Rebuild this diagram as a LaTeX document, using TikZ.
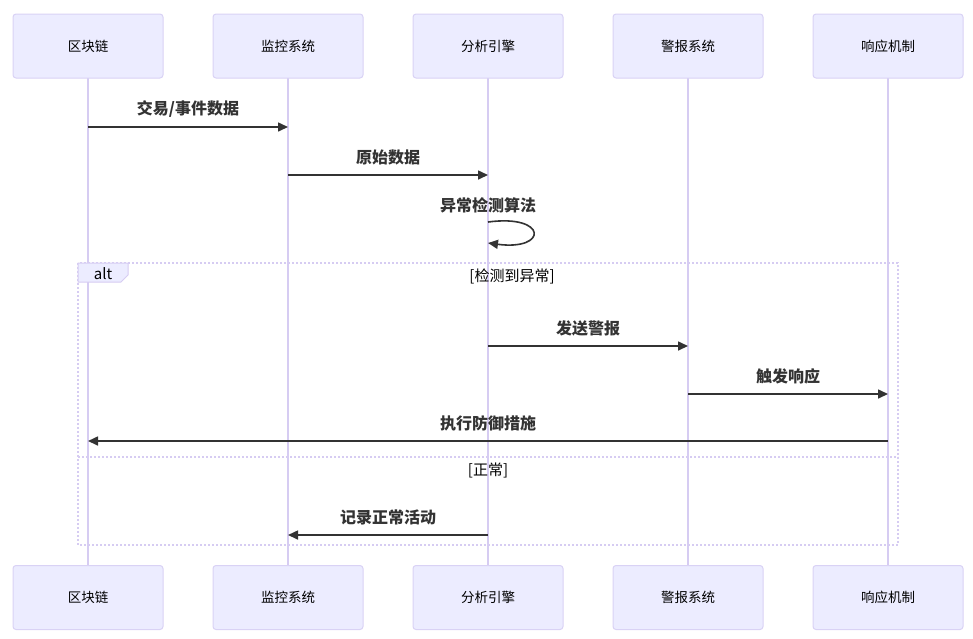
\documentclass[tikz,border=0pt]{standalone}
\usepackage{fontspec}
\setmainfont{Noto Sans CJK SC}
\usetikzlibrary{arrows.meta}
\definecolor{actfill}{HTML}{ECECFF}
\definecolor{actline}{HTML}{D9D2F5}
\definecolor{lifeline}{HTML}{D6CCF2}
\definecolor{msg}{HTML}{333333}
\tikzset{
  actor/.style={draw=actline, fill=actfill, line width=1pt, rounded corners=3pt,
    minimum width=150pt, minimum height=64pt, inner sep=0pt,
    font=\fontsize{13.5}{15}\selectfont, text=black},
  life/.style={draw=lifeline, line width=1.3pt},
  msgline/.style={draw=msg, line width=1.6pt, -{Triangle[length=10pt,width=9pt]}},
  msglabel/.style={font=\bfseries\fontsize{16}{18}\selectfont, text=msg, inner sep=0pt},
  loopline/.style={draw=lifeline, line width=1.5pt, dash pattern=on 2pt off 2pt},
  cond/.style={font=\fontsize{15}{17}\selectfont, text=black, inner sep=0pt}
}
\begin{document}
\begin{tikzpicture}[x=1pt,y=-1pt]
\useasboundingbox (0,0) rectangle (973,638);
% lifelines first
\foreach \x in {88,288,488,688,888} {\draw[life] (\x,78) -- (\x,565);}
% top actors
\node[actor] (a1) at (88,46) {\raisebox{-1.5pt}{区块链}};
\node[actor] (a2) at (288,46) {\raisebox{-1.5pt}{监控系统}};
\node[actor] (a3) at (488,46) {\raisebox{-1.5pt}{分析引擎}};
\node[actor] (a4) at (688,46) {\raisebox{-1.5pt}{警报系统}};
\node[actor] (a5) at (888,46) {\raisebox{-1.5pt}{响应机制}};
% bottom actors
\node[actor] (b1) at (88,597.5) {\raisebox{-1.5pt}{区块链}};
\node[actor] (b2) at (288,597.5) {\raisebox{-1.5pt}{监控系统}};
\node[actor] (b3) at (488,597.5) {\raisebox{-1.5pt}{分析引擎}};
\node[actor] (b4) at (688,597.5) {\raisebox{-1.5pt}{警报系统}};
\node[actor] (b5) at (888,597.5) {\raisebox{-1.5pt}{响应机制}};
% alt frame
\draw[loopline] (78,263) rectangle (898,545);
\draw[loopline] (78,457) -- (898,457);
\filldraw[fill=actfill, draw=lifeline, line width=1pt] (78,263) -- (128,263) -- (128,275) -- (121,282) -- (78,282) -- cycle;
\node[cond] (alt) at (103,274) {alt};
\node[cond] (c1) at (512,276) {[检测到异常]};
\node[cond] (c2) at (488,470) {[正常]};
% message coordinates
\coordinate (m1s) at (88,127);  \coordinate (m1e) at (288,127);
\coordinate (m2s) at (288,175); \coordinate (m2e) at (488,175);
\coordinate (m3s) at (488,222); \coordinate (m3e) at (488,243);
\coordinate (m4s) at (488,346); \coordinate (m4e) at (688,346);
\coordinate (m5s) at (688,394); \coordinate (m5e) at (888,394);
\coordinate (m6s) at (888,441); \coordinate (m6e) at (88,441);
\coordinate (m7s) at (488,535); \coordinate (m7e) at (288,535);
% messages
\draw[msgline] (m1s) -- (m1e);
\node[msglabel] (l1) at (188,109) {交易/事件数据};
\draw[msgline] (m2s) -- (m2e);
\node[msglabel] (l2) at (388,157) {原始数据};
\draw[msgline] (m3s) .. controls (548,214) and (548,251) .. (m3e);
\node[msglabel] (l3) at (488,205) {异常检测算法};
\draw[msgline] (m4s) -- (m4e);
\node[msglabel] (l4) at (588,328) {发送警报};
\draw[msgline] (m5s) -- (m5e);
\node[msglabel] (l5) at (788,376) {触发响应};
\draw[msgline] (m6s) -- (m6e);
\node[msglabel] (l6) at (488,423) {执行防御措施};
\draw[msgline] (m7s) -- (m7e);
\node[msglabel] (l7) at (388,517) {记录正常活动};
\end{tikzpicture}
\end{document}
